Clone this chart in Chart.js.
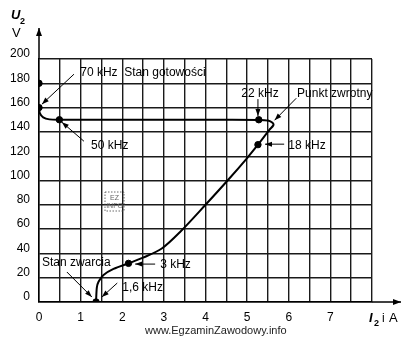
<!DOCTYPE html>
<html>
<head>
<meta charset="utf-8">
<script src="https://cdn.jsdelivr.net/npm/chart.js@4"></script>
<style>
  html, body { margin: 0; padding: 0; background: #fff; }
  #wrap { width: 413px; height: 337px; position: relative; }
</style>
</head>
<body>
<div id="wrap"><canvas id="chartId"></canvas></div>
<script>
// U2 = f(I2) characteristic of the converter
var curveI = [0, 0.02, 0.1, 0.25, 0.49, 2, 4, 5.28, 5.5, 5.61, 5.63, 5.53, 5.26, 5.0, 4.53, 4.0, 3.4, 2.95, 2.5, 2.15, 1.79, 1.55, 1.43, 1.39, 1.37];
var curveU = [160, 155.5, 152, 150.3, 150, 150, 150, 149.8, 149.3, 147.5, 145.5, 141.5, 129.5, 118.5, 100, 80, 58, 44, 36.5, 31.8, 27.2, 22.2, 16.7, 12, 0];

// marked working points
var pointI = [0, 0, 0.49, 5.28, 5.26, 2.15, 1.37];
var pointU = [180, 160, 150, 150, 129.5, 31.8, 0];

var xTicks = ['0', '1', '2', '3', '4', '5', '6', '7'];
var yTicks = ['0', '20', '40', '60', '80', '100', '120', '140', '160', '180', '200'];

// labels with arrows: text position, arrow start, arrow end (in A / V)
var notes = [
  { text: '70 kHz  Stan gotowości', tx: 0.99, ty: 189, x1: 0.84, y1: 187.5, x2: 0.07, y2: 162.8, align: 'left' },
  { text: '50 kHz', tx: 1.25, ty: 129, x1: 1.08, y1: 132.3, x2: 0.55, y2: 148, align: 'left' },
  { text: '22 kHz', tx: 5.31, ty: 171.8, x1: 5.26, y1: 167, x2: 5.26, y2: 153, align: 'center' },
  { text: 'Punkt zwrotny', tx: 6.2, ty: 171.8, x1: 6.18, y1: 167.7, x2: 5.66, y2: 149.6, align: 'left' },
  { text: '18 kHz', tx: 5.99, ty: 129, x1: 5.89, y1: 129.9, x2: 5.43, y2: 129.9, align: 'left' },
  { text: '3 kHz', tx: 2.91, ty: 30.4, x1: 2.79, y1: 31.2, x2: 2.31, y2: 31.2, align: 'left' },
  { text: 'Stan zwarcia', tx: 0.07, ty: 32, x1: 0.67, y1: 24.7, x2: 1.27, y2: 4.1, align: 'left' },
  { text: '1,6 kHz', tx: 2.0, ty: 11.5, x1: 1.88, y1: 15.6, x2: 1.51, y2: 4.1, align: 'left' }
];

var font = '"Liberation Sans", Arial, sans-serif';

function arrow(ctx, x1, y1, x2, y2, len, wid) {
  ctx.beginPath();
  ctx.moveTo(x1, y1);
  ctx.lineTo(x2, y2);
  ctx.stroke();
  var a = Math.atan2(y2 - y1, x2 - x1);
  ctx.beginPath();
  ctx.moveTo(x2, y2);
  ctx.lineTo(x2 - len * Math.cos(a) + wid * Math.sin(a), y2 - len * Math.sin(a) - wid * Math.cos(a));
  ctx.lineTo(x2 - len * Math.cos(a) - wid * Math.sin(a), y2 - len * Math.sin(a) + wid * Math.cos(a));
  ctx.closePath();
  ctx.fill();
}

var extras = {
  id: 'extras',
  afterDraw: function (chart) {
    var ctx = chart.ctx;
    var xs = chart.scales.x, ys = chart.scales.y;
    var area = chart.chartArea;
    ctx.save();
    ctx.strokeStyle = '#000';
    ctx.fillStyle = '#000';
    ctx.lineWidth = 1.5;

    // axis extensions with arrowheads
    arrow(ctx, area.left, area.top, area.left, 28, 8, 3);
    arrow(ctx, area.right, area.bottom, 401, area.bottom, 8, 3);

    // axis names
    ctx.textBaseline = 'alphabetic';
    ctx.textAlign = 'left';
    ctx.font = 'italic bold 13px ' + font;
    ctx.fillText('U', 11, 19);
    ctx.font = 'bold 9px ' + font;
    ctx.fillText('2', 20, 24);
    ctx.font = '13px ' + font;
    ctx.fillText('V', 12, 37);

    ctx.font = 'italic bold 13px ' + font;
    ctx.fillText('I', 369, 322);
    ctx.font = 'bold 9px ' + font;
    ctx.fillText('2', 374, 326);
    ctx.font = '12px ' + font;
    ctx.fillText('i', 382, 322);
    ctx.font = '13px ' + font;
    ctx.fillText('A', 389, 322);

    // notes
    ctx.lineWidth = 1;
    ctx.font = '12px ' + font;
    ctx.textBaseline = 'middle';
    notes.forEach(function (n) {
      arrow(ctx, xs.getPixelForValue(n.x1), ys.getPixelForValue(n.y1),
        xs.getPixelForValue(n.x2), ys.getPixelForValue(n.y2), 7, 2.5);
      ctx.textAlign = n.align;
      ctx.fillText(n.text, xs.getPixelForValue(n.tx), ys.getPixelForValue(n.ty));
    });

    // small stamp
    ctx.setLineDash([1.5, 1.5]);
    ctx.lineWidth = 0.8;
    ctx.strokeStyle = '#444';
    ctx.strokeRect(105, 192, 19, 19);
    ctx.setLineDash([]);
    ctx.fillStyle = '#666';
    ctx.font = '7px ' + font;
    ctx.textAlign = 'center';
    ctx.fillText('EZ', 114.5, 198);
    ctx.fillText('INFO', 114.5, 206);

    // site address
    ctx.fillStyle = '#222';
    ctx.font = '11px ' + font;
    ctx.textAlign = 'left';
    ctx.textBaseline = 'alphabetic';
    ctx.fillText('www.EgzaminZawodowy.info', 145, 334);
    ctx.restore();
  }
};

var curve = curveI.map(function (v, i) { return { x: v, y: curveU[i] }; });
var marks = pointI.map(function (v, i) { return { x: v, y: pointU[i] }; });

new Chart(document.getElementById('chartId'), {
  type: 'scatter',
  data: {
    datasets: [{
      data: curve,
      showLine: true,
      borderColor: '#000',
      borderWidth: 2,
      pointRadius: 0,
      tension: 0.3
    }, {
      data: marks,
      backgroundColor: '#000',
      borderColor: '#000',
      pointRadius: 3.2
    }]
  },
  options: {
    responsive: true,
    maintainAspectRatio: false,
    animation: false,
    layout: { padding: { top: 59, right: 41, left: 0, bottom: 0 } },
    plugins: { legend: { display: false }, tooltip: { enabled: false } },
    scales: {
      x: {
        type: 'linear',
        min: 0,
        max: 8,
        afterFit: function (s) { s.height = 35; },
        ticks: {
          stepSize: 0.5,
          autoSkip: false,
          maxRotation: 0,
          padding: 8,
          color: '#000',
          font: { family: font, size: 12 },
          callback: function (value) {
            return Number.isInteger(value) && value < 8 ? xTicks[value] : '';
          }
        },
        grid: { color: '#1a1a1a', lineWidth: 1.4, drawTicks: false },
        border: { color: '#000', width: 1.5 }
      },
      y: {
        min: 0,
        max: 200,
        afterFit: function (s) { s.width = 39; },
        ticks: {
          stepSize: 20,
          padding: 9,
          labelOffset: -5,
          color: '#000',
          font: { family: font, size: 12 },
          callback: function (value) { return yTicks[value / 20]; }
        },
        grid: { color: '#1a1a1a', lineWidth: 1.4, drawTicks: false },
        border: { color: '#000', width: 1.5 }
      }
    }
  },
  plugins: [extras]
});
</script>
</body>
</html>
